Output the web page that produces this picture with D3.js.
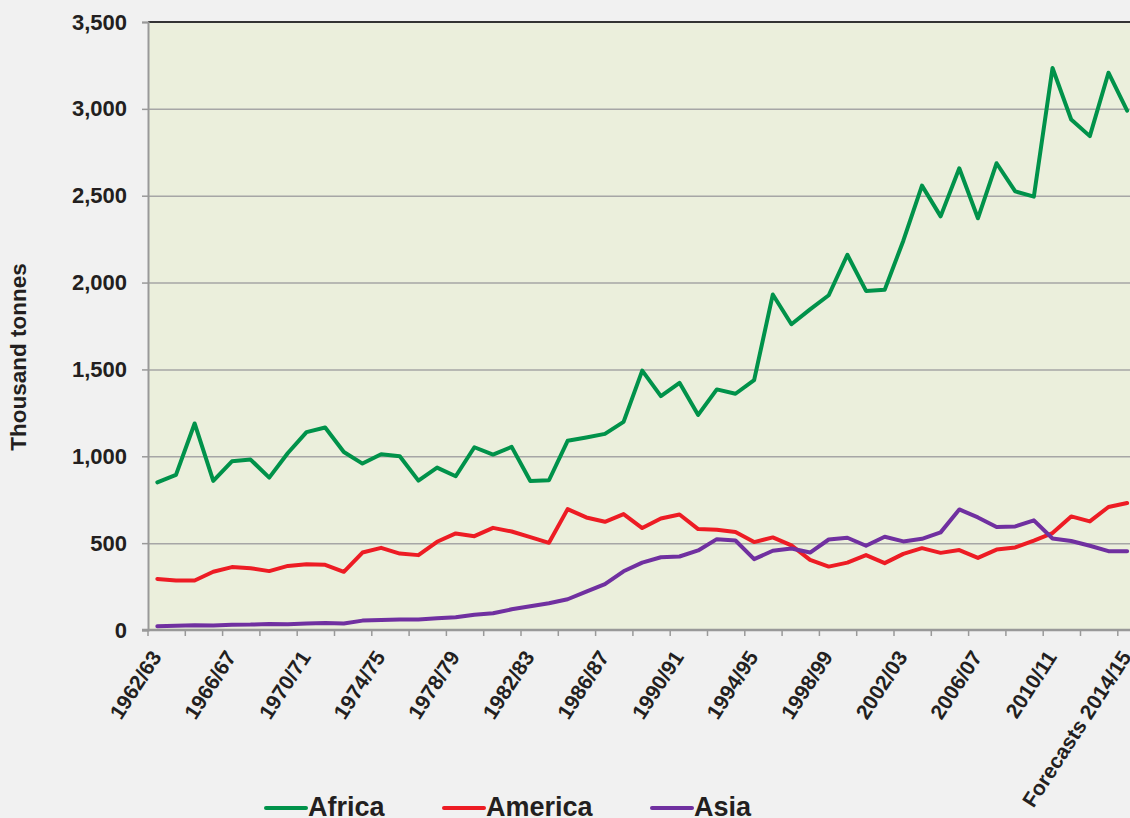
<!DOCTYPE html>
<meta charset="utf-8">
<head>
  <title>Thousand tonnes by region</title>
  <script src="https://d3js.org/d3.v7.min.js"></script>
  <style>
    body { margin: 0; background: #f1f1f1; font-family: "Liberation Sans", Arial, sans-serif; }
    .tick-label { font-size: 22px; font-weight: bold; fill: #231f20; }
    .x-label { font-size: 21px; font-weight: bold; fill: #231f20; }
    .grid line { stroke: #a6a6a6; stroke-width: 1.5; }
    .series { fill: none; stroke-width: 4; stroke-linejoin: round; stroke-linecap: round; }
  </style>
</head>
<body>
<script>
  // Season labels, one per point
  var seasons = [];
  for (var yr = 1962; yr < 2014; yr++) {
    seasons.push(yr + "/" + String(yr + 1).slice(2));
  }
  seasons.push("Forecasts 2014/15");

  // Values (thousand tonnes)
  var africa = [850, 893, 1189, 858, 971, 981, 877, 1019, 1139, 1166,
                1025, 958, 1012, 1000, 860, 935, 885, 1052, 1010, 1054,
                858, 862, 1089, 1108, 1129, 1198, 1493, 1346, 1423, 1238,
                1385, 1360, 1438, 1931, 1760, 1846, 1927, 2160, 1952, 1958,
                2241, 2558, 2381, 2658, 2370, 2687, 2525, 2495, 3235, 2939,
                2843, 3208, 2990];
  var america = [294, 285, 285, 335, 362, 356, 339, 369, 379, 375,
                 335, 446, 473, 440, 431, 508, 556, 540, 588, 567,
                 535, 502, 696, 648, 623, 667, 587, 642, 665, 581,
                 577, 564, 506, 533, 487, 404, 365, 388, 431, 385,
                 438, 471, 444, 460, 415, 463, 475, 515, 558, 654,
                 625, 708, 731];
  var asia = [22, 25, 28, 26, 30, 31, 35, 33, 37, 40,
              38, 54, 58, 60, 60, 67, 73, 88, 96, 119,
              137, 154, 177, 221, 264, 338, 388, 419, 423, 458,
              523, 515, 408, 456, 469, 446, 521, 531, 485, 537,
              510, 525, 562, 694, 648, 593, 596, 631, 527, 512,
              485, 454, 454];

  var seriesNames = ["Africa", "America", "Asia"];
  var seriesColors = ["#00924a", "#ed1c24", "#7030a0"];
  var yTicks = [0, 500, 1000, 1500, 2000, 2500, 3000, 3500];

  var width = 1130, height = 818;
  var plotLeft = 148, plotTop = 22, plotBottom = 630;
  var step = 18.65;
  var plotRight = plotLeft + seasons.length * step;

  var svg = d3.select("body").append("svg")
    .attr("width", width)
    .attr("height", height);

  var x = d3.scalePoint()
    .domain(seasons)
    .range([plotLeft, plotRight])
    .padding(0.5);

  var y = d3.scaleLinear()
    .domain([0, 3500])
    .range([plotBottom, plotTop]);

  // Plot background
  svg.append("rect")
    .attr("x", plotLeft).attr("y", plotTop)
    .attr("width", plotRight - plotLeft).attr("height", plotBottom - plotTop)
    .style("fill", "#ebefdc");

  // Horizontal gridlines
  svg.append("g")
    .attr("class", "grid")
    .attr("transform", "translate(" + plotLeft + ",0)")
    .call(d3.axisLeft(y).tickValues(yTicks.slice(1, -1)).tickSize(-(plotRight - plotLeft)).tickFormat(""))
    .call(function(g) { g.select(".domain").remove(); });

  // Top border
  svg.append("line")
    .attr("x1", plotLeft).attr("x2", plotRight)
    .attr("y1", plotTop).attr("y2", plotTop)
    .style("stroke", "#333").style("stroke-width", 2);

  // Y axis
  var yAxis = svg.append("g")
    .attr("transform", "translate(" + plotLeft + ",0)")
    .call(d3.axisLeft(y).tickValues(yTicks).tickSize(6).tickPadding(15).tickFormat(d3.format(",")));
  yAxis.select(".domain").style("stroke", "#999").style("stroke-width", 2);
  yAxis.selectAll(".tick line").style("stroke", "#999").style("stroke-width", 1.5);
  yAxis.selectAll(".tick text").attr("class", "tick-label");
  yAxis.attr("font-family", null).attr("font-size", null);

  // X axis line and ticks (every two seasons, between categories)
  svg.append("line")
    .attr("x1", plotLeft - 6).attr("x2", plotRight)
    .attr("y1", plotBottom).attr("y2", plotBottom)
    .style("stroke", "#999").style("stroke-width", 2.5);

  var tickSeasons = seasons.filter(function(d, i) { return i % 2 == 0; });
  svg.append("g").selectAll("line")
    .data(tickSeasons)
    .enter().append("line")
    .attr("x1", function(d) { return x(d) - step / 2; })
    .attr("x2", function(d) { return x(d) - step / 2; })
    .attr("y1", plotBottom).attr("y2", plotBottom + 6)
    .style("stroke", "#999").style("stroke-width", 1.5);

  // X labels every four seasons
  var labelSeasons = seasons.filter(function(d, i) { return i % 4 == 0; });
  svg.append("g").selectAll("text")
    .data(labelSeasons)
    .enter().append("text")
    .attr("class", "x-label")
    .attr("text-anchor", "end")
    .attr("transform", function(d) {
      return "translate(" + (x(d) + 5) + "," + (plotBottom + 27) + ") rotate(-57)";
    })
    .text(function(d) { return d; });

  // Y axis title
  svg.append("text")
    .attr("class", "tick-label")
    .attr("text-anchor", "middle")
    .style("font-size", "22.5px")
    .attr("transform", "translate(26,357) rotate(-90)")
    .text("Thousand tonnes");

  // Lines
  var line = d3.line()
    .x(function(d, i) { return x(seasons[i]); })
    .y(function(d) { return y(d); });

  var allSeries = [africa, america, asia];
  svg.append("g").selectAll("path")
    .data(allSeries)
    .enter().append("path")
    .attr("class", "series")
    .attr("d", line)
    .style("stroke", function(d, i) { return seriesColors[i]; });

  // Legend
  var legendX = [266, 444, 652];
  var legend = svg.append("g").selectAll("g")
    .data(seriesNames)
    .enter().append("g")
    .attr("transform", function(d, i) { return "translate(" + legendX[i] + ",808)"; });
  legend.append("line")
    .attr("x1", 0).attr("x2", 40)
    .style("stroke", function(d, i) { return seriesColors[i]; })
    .style("stroke-width", 4)
    .style("stroke-linecap", "round");
  legend.append("text")
    .attr("x", 42).attr("y", 8)
    .style("font-size", "27px")
    .style("font-weight", "bold")
    .style("fill", "#231f20")
    .text(function(d) { return d; });
</script>
</body>
</html>
